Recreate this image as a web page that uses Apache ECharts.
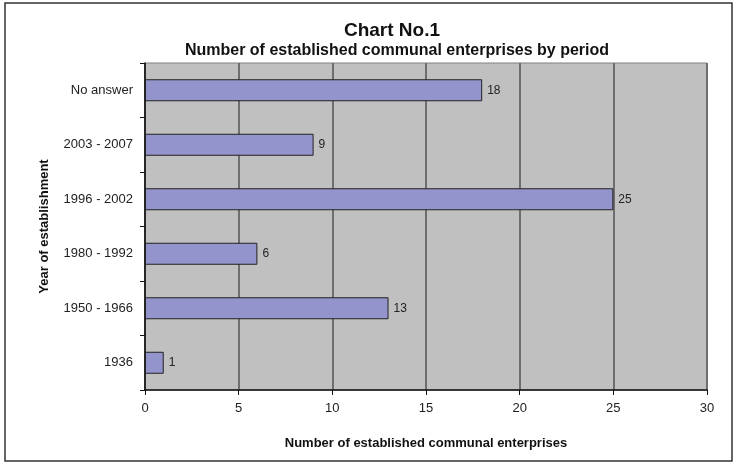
<!DOCTYPE html>
<html>
<head>
<meta charset="utf-8">
<script src="https://cdn.jsdelivr.net/npm/echarts@6/dist/echarts.min.js"></script>
<style>
  html, body { margin: 0; padding: 0; background: #ffffff; }
  #chart { width: 737px; height: 464px; }
</style>
</head>
<body>
<div id="chart"></div>
<script>
// Periods listed from bottom to top of the category axis
const periods = ['1936', '1950 - 1966', '1980 - 1992', '1996 - 2002', '2003 - 2007', 'No answer'];
// Number of enterprises established in each period
const counts = [1, 13, 6, 25, 9, 18];
// Value axis range and step
const xMin = 0;
const xMax = 30;
const xStep = 5;

const FONT = '"Liberation Sans", Arial, sans-serif';

const chart = echarts.init(document.getElementById('chart'), null, { renderer: 'canvas' });

chart.setOption({
  animation: false,
  backgroundColor: '#ffffff',
  textStyle: { fontFamily: FONT },
  grid: {
    left: 145,
    right: 30,
    top: 63,
    bottom: 74,
    show: true,
    backgroundColor: '#c0c0c0',
    borderColor: '#808080',
    borderWidth: 1
  },
  graphic: [
    {
      type: 'rect',
      shape: { x: 5, y: 3, width: 727, height: 458 },
      style: { fill: 'none', stroke: '#333333', lineWidth: 1.5 },
      silent: true,
      z: 100
    },
    {
      type: 'text',
      x: 392,
      y: 31,
      style: {
        text: 'Chart No.1',
        font: 'bold 19px ' + FONT,
        fill: '#111111',
        textAlign: 'center',
        textVerticalAlign: 'middle'
      }
    },
    {
      type: 'text',
      x: 397,
      y: 51,
      style: {
        text: 'Number of established communal enterprises by period',
        font: 'bold 16px ' + FONT,
        fill: '#111111',
        textAlign: 'center',
        textVerticalAlign: 'middle'
      }
    }
  ],
  xAxis: {
    type: 'value',
    min: xMin,
    max: xMax,
    interval: xStep,
    name: 'Number of established communal enterprises',
    nameLocation: 'middle',
    nameGap: 47,
    nameTextStyle: { fontFamily: FONT, fontSize: 13, fontWeight: 'bold', color: '#111111' },
    axisLine: { show: true, lineStyle: { color: '#111111', width: 1.5 } },
    axisTick: { show: true, inside: false, length: 5, lineStyle: { color: '#111111', width: 1 } },
    axisLabel: { fontFamily: FONT, fontSize: 13, color: '#222222', margin: 12 },
    splitLine: { show: true, lineStyle: { color: '#6e6e6e', width: 2 } }
  },
  yAxis: {
    type: 'category',
    data: periods,
    name: 'Year of establishment',
    nameLocation: 'middle',
    nameGap: 94,
    nameRotate: 90,
    nameTextStyle: { fontFamily: FONT, fontSize: 13, fontWeight: 'bold', color: '#111111' },
    axisLine: { show: true, lineStyle: { color: '#111111', width: 1.5 } },
    axisTick: { show: true, inside: false, length: 5, alignWithLabel: false, lineStyle: { color: '#111111', width: 1 } },
    axisLabel: { fontFamily: FONT, fontSize: 13, color: '#222222', margin: 12 },
    splitLine: { show: false }
  },
  series: [
    {
      type: 'bar',
      data: counts,
      barWidth: 22,
      itemStyle: { color: '#9494cc', borderColor: '#222222', borderWidth: 1 },
      label: {
        show: true,
        position: 'right',
        distance: 5,
        fontFamily: FONT,
        fontSize: 12,
        color: '#222222'
      }
    }
  ]
});
</script>
</body>
</html>
